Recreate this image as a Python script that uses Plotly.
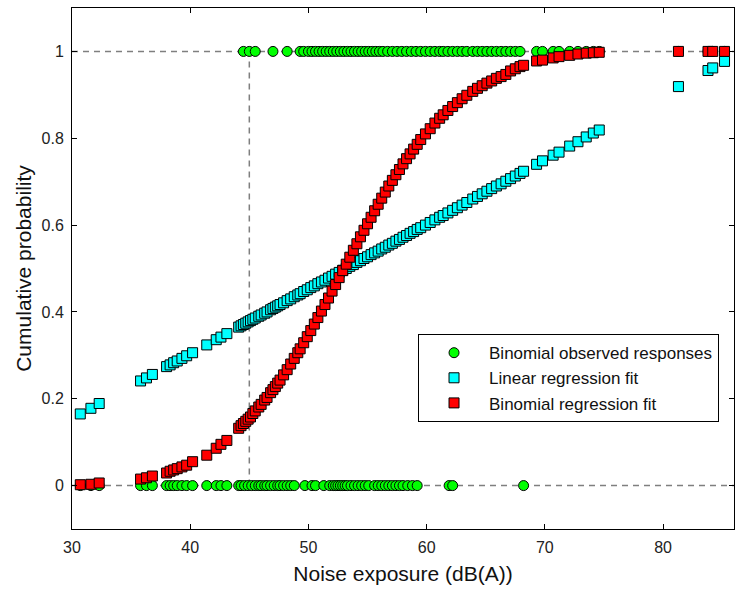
import plotly.graph_objects as go

# Observed binomial responses (exposure in dB(A))
obs_zero_x = [30.7, 31.6, 32.3, 35.8, 36.3, 36.8, 38.0, 38.3, 38.6, 38.9, 39.3, 39.7, 40.2,
              41.4, 42.2, 42.6, 43.1, 44.1, 44.3, 44.6, 44.9, 45.2, 45.5, 45.8, 46.0, 46.3,
              46.5, 46.8, 47.1, 47.4, 47.6, 47.9, 48.2, 48.5, 48.8, 49.7, 50.3, 50.6, 51.3,
              51.8, 52.1, 52.3, 52.5, 52.7, 52.9, 53.1, 53.3, 53.6, 53.9, 54.2, 54.5, 54.8,
              55.1, 55.6, 55.9, 56.2, 56.5, 56.8, 57.1, 57.4, 57.7, 58.0, 58.4, 58.8, 59.2,
              61.9, 62.2, 68.2]
obs_one_x = [44.5, 45.0, 45.5, 47.0, 48.2, 49.3, 49.6, 50.0, 50.3, 50.6, 50.9, 51.2, 51.5,
             51.8, 52.1, 52.4, 52.7, 53.0, 53.3, 53.6, 53.9, 54.2, 54.5, 54.8, 55.1, 55.4,
             55.7, 56.0, 56.3, 56.7, 57.1, 57.5, 57.9, 58.3, 58.7, 59.1, 59.5, 59.9, 60.3,
             60.7, 61.1, 61.4, 61.8, 62.2, 62.6, 63.0, 63.4, 63.9, 64.3, 64.7, 65.1, 65.5,
             65.9, 66.3, 66.7, 67.1, 67.5, 67.9, 69.3, 69.8, 70.7, 71.2, 72.1, 72.8, 73.5,
             74.1, 74.6, 81.3, 83.8, 84.2, 85.2]

# Fitted values at the exposure levels
fit_x = [30.7, 31.6, 32.3, 35.8, 36.3, 36.8, 38.0, 38.3, 38.6, 38.9, 39.3, 39.7, 40.2, 41.4,
         42.2, 42.6, 43.1, 44.1, 44.3, 44.5, 44.7, 44.9, 45.1, 45.3, 45.5, 45.8, 46.0, 46.3,
         46.5, 46.8, 47.0, 47.2, 47.4, 47.6, 47.9, 48.2, 48.5, 48.8, 49.1, 49.3, 49.6, 49.9,
         50.2, 50.5, 50.8, 51.1, 51.4, 51.7, 52.0, 52.3, 52.6, 52.9, 53.2, 53.5, 53.8, 54.1,
         54.4, 54.7, 55.0, 55.3, 55.6, 55.9, 56.2, 56.5, 56.8, 57.1, 57.4, 57.7, 58.0, 58.3,
         58.6, 58.9, 59.2, 59.5, 59.9, 60.3, 60.7, 61.1, 61.4, 61.8, 62.2, 62.6, 63.0, 63.4,
         63.9, 64.3, 64.7, 65.1, 65.5, 65.9, 66.3, 66.7, 67.1, 67.5, 67.9, 68.2, 69.3, 69.8,
         70.7, 71.2, 72.1, 72.8, 73.5, 74.1, 74.6, 81.3, 83.8, 84.2, 85.2]
linear_fit = [0.165, 0.178, 0.189, 0.241, 0.248, 0.256, 0.274, 0.278, 0.283, 0.287, 0.293,
              0.299, 0.306, 0.324, 0.336, 0.342, 0.350, 0.365, 0.368, 0.371, 0.374, 0.377,
              0.380, 0.383, 0.386, 0.390, 0.393, 0.397, 0.400, 0.405, 0.408, 0.411, 0.414,
              0.417, 0.421, 0.426, 0.430, 0.435, 0.439, 0.442, 0.447, 0.451, 0.456, 0.460,
              0.465, 0.469, 0.473, 0.478, 0.482, 0.487, 0.491, 0.496, 0.500, 0.505, 0.509,
              0.514, 0.518, 0.523, 0.527, 0.532, 0.536, 0.540, 0.545, 0.549, 0.554, 0.558,
              0.563, 0.567, 0.572, 0.576, 0.581, 0.585, 0.590, 0.594, 0.600, 0.606, 0.612,
              0.618, 0.622, 0.628, 0.634, 0.640, 0.646, 0.652, 0.660, 0.666, 0.672, 0.678,
              0.684, 0.690, 0.695, 0.701, 0.707, 0.713, 0.719, 0.724, 0.740, 0.748, 0.761,
              0.768, 0.782, 0.792, 0.803, 0.812, 0.819, 0.919, 0.956, 0.962, 0.977]
binomial_fit = [0.002, 0.003, 0.006, 0.015, 0.018, 0.022, 0.029, 0.033, 0.036, 0.039, 0.043,
                0.047, 0.055, 0.070, 0.086, 0.095, 0.104, 0.132, 0.138, 0.143, 0.148, 0.153,
                0.158, 0.166, 0.172, 0.181, 0.187, 0.197, 0.203, 0.214, 0.221, 0.228, 0.236,
                0.243, 0.255, 0.267, 0.280, 0.293, 0.306, 0.315, 0.329, 0.343, 0.357, 0.372,
                0.387, 0.402, 0.417, 0.432, 0.448, 0.463, 0.479, 0.495, 0.510, 0.526, 0.542,
                0.557, 0.573, 0.588, 0.603, 0.618, 0.633, 0.648, 0.662, 0.676, 0.690, 0.703,
                0.716, 0.728, 0.741, 0.753, 0.764, 0.775, 0.786, 0.797, 0.810, 0.822, 0.835,
                0.846, 0.854, 0.864, 0.873, 0.882, 0.891, 0.899, 0.908, 0.915, 0.921, 0.927,
                0.932, 0.938, 0.942, 0.947, 0.955, 0.960, 0.965, 0.968, 0.978, 0.980, 0.985,
                0.988, 0.991, 0.994, 0.996, 0.997, 0.998, 1.000, 1.000, 1.000, 1.000]

obs_x = obs_zero_x + obs_one_x
obs_y = [0] * len(obs_zero_x) + [1] * len(obs_one_x)

x_range = [30, 86]
y_range = [-0.1, 1.1]
threshold_x = 45

fig = go.Figure()

fig.add_trace(go.Scatter(
    x=obs_x, y=obs_y, mode="markers", name="Binomial observed responses",
    marker=dict(symbol="circle", size=10, color="#00FF00", line=dict(color="black", width=1))))
fig.add_trace(go.Scatter(
    x=fit_x, y=linear_fit, mode="markers", name="Linear regression fit",
    marker=dict(symbol="square", size=10, color="#00FFFF", line=dict(color="black", width=1))))
fig.add_trace(go.Scatter(
    x=fit_x, y=binomial_fit, mode="markers", name="Binomial regression fit",
    marker=dict(symbol="square", size=10, color="#FF0000", line=dict(color="black", width=1))))

dash_line = dict(color="#7f7f7f", width=1.5, dash="6px,5px")
fig.add_shape(type="line", xref="paper", yref="y", x0=0, x1=1, y0=0, y1=0,
              line=dash_line, layer="below")
fig.add_shape(type="line", xref="paper", yref="y", x0=0, x1=1, y0=1, y1=1,
              line=dash_line, layer="below")
fig.add_shape(type="line", xref="x", yref="y", x0=threshold_x, x1=threshold_x, y0=0, y1=1,
              line=dash_line, layer="below")

axis_common = dict(showgrid=False, zeroline=False, showline=True, linecolor="black",
                   linewidth=1, mirror="ticks", ticks="inside", ticklen=5,
                   tickcolor="black", tickfont=dict(size=16, color="#222222",
                                                    family="Liberation Sans, Arial"))

fig.update_layout(
    width=741, height=592,
    margin=dict(l=72, r=7, t=8, b=63),
    paper_bgcolor="white", plot_bgcolor="white",
    font=dict(family="Liberation Sans, Arial", color="#111111"),
    xaxis=dict(range=x_range, tickvals=[30, 40, 50, 60, 70, 80], ticklabelstandoff=4,
               title=dict(text="Noise exposure (dB(A))", font=dict(size=21), standoff=11),
               **axis_common),
    yaxis=dict(range=y_range, tickvals=[0, 0.2, 0.4, 0.6, 0.8, 1],
               ticktext=["0", "0.2", "0.4", "0.6", "0.8", "1"], ticklabelstandoff=4,
               title=dict(text="Cumulative probability", font=dict(size=21), standoff=4),
               **axis_common),
    legend=dict(x=0.5227, y=0.374, xanchor="left", yanchor="top",
                bgcolor="white", bordercolor="black", borderwidth=1,
                font=dict(size=17, color="#111111"), itemwidth=60,
                tracegroupgap=0),
    showlegend=True,
)

fig.write_html("out.html")
